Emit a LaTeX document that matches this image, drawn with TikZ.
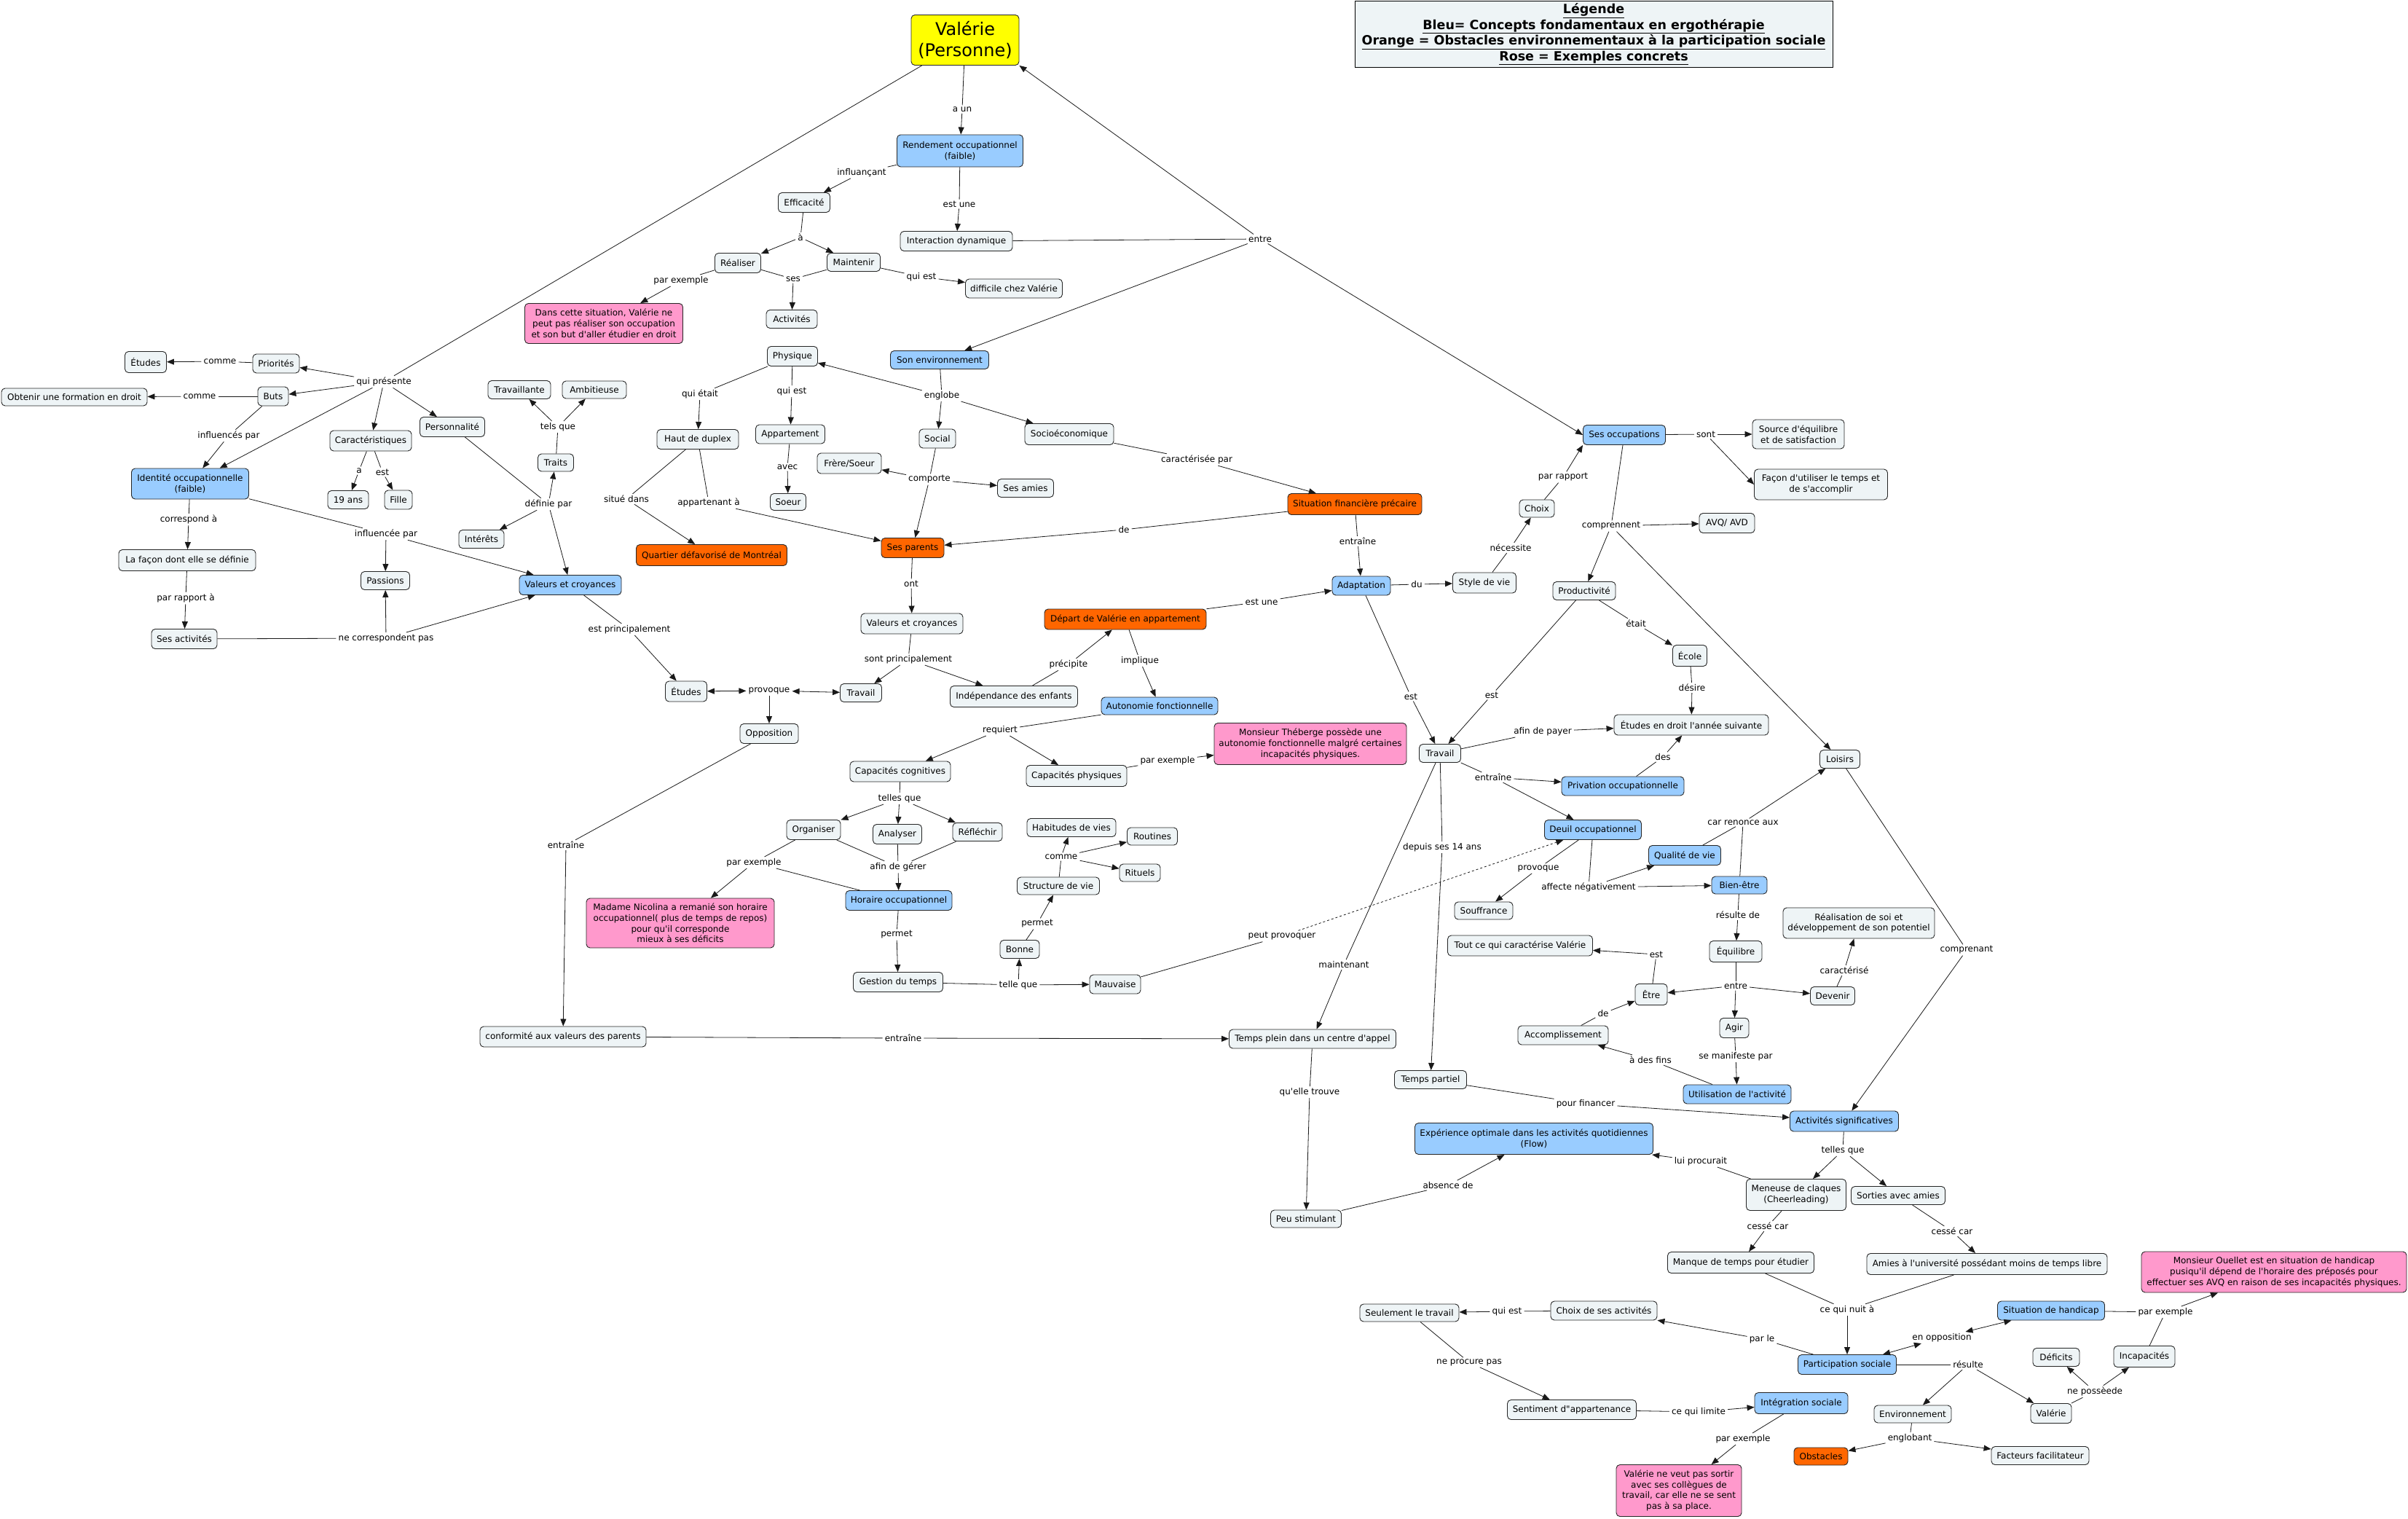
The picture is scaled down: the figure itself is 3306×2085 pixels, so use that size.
\documentclass[tikz,border=0pt]{standalone}
\usepackage{fontspec}
\setmainfont{DejaVu Sans}[Ligatures=TeXOff]
\usetikzlibrary{arrows.meta}
\definecolor{cgray}{RGB}{238,244,246}
\definecolor{cblue}{RGB}{153,204,255}
\definecolor{corange}{RGB}{255,102,0}
\definecolor{cpink}{RGB}{255,153,204}
\definecolor{cyell}{RGB}{255,255,0}
\newcommand\nf{\fontsize{12}{14.8}\selectfont}
\tikzset{
 cpt/.style={rounded corners=5pt, draw=black!85, line width=0.9pt, fill=cgray, inner xsep=3pt, inner ysep=2pt, align=center, font=\nf},
 blu/.style={cpt, fill=cblue},
 org/.style={cpt, fill=corange},
 pnk/.style={cpt, fill=cpink},
 lbl/.style={font=\nf, inner xsep=3pt, inner ysep=2pt},
 ln/.style={line width=0.8pt, black!90},
 ar/.style={ln, -{Triangle[length=10pt,width=8pt]}},
 dar/.style={ln, {Triangle[length=10pt,width=8pt]}-{Triangle[length=10pt,width=8pt]}}
}
\newcommand\CN[6]{\node[#1,minimum width=#4pt,minimum height=#5pt] (#2) at (#3) {#6};}
\newcommand\LB[3]{\node[lbl] (#1) at (#2) {#3};}
\newcommand\LK[2]{\draw[ln] (#1) -- (#2);}
\newcommand\AR[2]{\draw[ar] (#1) -- (#2);}
\newcommand\DA[2]{\draw[dar] (#1) -- (#2);}
\begin{document}
\begin{tikzpicture}[x=1pt,y=-1pt]
\fill[white] (0,0) rectangle (3306,2085);
\useasboundingbox (0,0) rectangle (3306,2085);
% ---------- concepts
\node[cpt, fill=cyell, minimum width=148pt, minimum height=69pt, font=\fontsize{24}{29}\selectfont] (valerie) at (1325,55) {Valérie\\(Personne)};
\node[draw=black, line width=0.9pt, fill=cgray, minimum width=656pt, minimum height=91pt, inner sep=2pt, align=center, font=\bfseries\fontsize{17.5}{21.5}\selectfont] (legend) at (2188,47) {\underline{Légende}\\\underline{Bleu= Concepts fondamentaux en ergothérapie}\\\underline{Orange = Obstacles environnementaux à la participation sociale}\\\underline{Rose = Exemples concrets}};
\CN{blu}{rendement}{1318,207}{173}{44}{Rendement occupationnel\\(faible)}
\CN{cpt}{efficacite}{1104,278}{71}{27}{Efficacité}
\CN{cpt}{interaction}{1313,331}{154}{27}{Interaction dynamique}
\CN{cpt}{realiser}{1013,361}{63}{27}{Réaliser}
\CN{cpt}{maintenir}{1172,360}{73}{25}{Maintenir}
\CN{cpt}{difficile}{1392,396}{133}{26}{difficile chez Valérie}
\CN{cpt}{activites}{1087,438}{70}{25}{Activités}
\CN{pnk}{pink1}{829,444}{217}{55}{Dans cette situation, Valérie ne\\peut pas réaliser son occupation\\et son but d'aller étudier en droit}
\CN{cpt}{physique}{1088,489}{69}{27}{Physique}
\CN{blu}{sonenv}{1290,494}{135}{25}{Son environnement}
\CN{cpt}{etudes1}{200,497}{57}{29}{Études}
\CN{cpt}{priorites}{379,499}{64}{26}{Priorités}
\CN{cpt}{obtenir}{102,545}{200}{24}{Obtenir une formation en droit}
\CN{cpt}{buts}{375,544}{42}{26}{Buts}
\CN{blu}{identite}{261,664}{161}{42}{Identité occupationnelle\\(faible)}
\CN{cpt}{caract}{509,605}{112}{28}{Caractéristiques}
\CN{cpt}{perso}{621,586}{89}{27}{Personnalité}
\CN{cpt}{ans19}{478,686}{56}{25}{19 ans}
\CN{cpt}{fille}{547,686}{38}{26}{Fille}
\CN{cpt}{travaillante}{713,535}{86}{25}{Travaillante}
\CN{cpt}{ambitieuse}{816,535}{88}{24}{Ambitieuse}
\CN{cpt}{traits}{763,635}{49}{24}{Traits}
\CN{cpt}{hautduplex}{958,603}{112}{27}{Haut de duplex}
\CN{cpt}{appartement}{1085,596}{95}{26}{Appartement}
\CN{cpt}{social}{1287,602}{50}{26}{Social}
\CN{cpt}{socioeco}{1468,596}{122}{29}{Socioéconomique}
\CN{cpt}{frere}{1166,636}{88}{28}{Frère/Soeur}
\CN{cpt}{sesamies}{1408,670}{77}{25}{Ses amies}
\CN{cpt}{soeur}{1082,689}{49}{23}{Soeur}
\CN{cpt}{facondef}{257,769}{188}{29}{La façon dont elle se définie}
\CN{cpt}{passions}{529,797}{67}{25}{Passions}
\CN{cpt}{interets}{661,740}{62}{25}{Intérêts}
\CN{blu}{valeurs1}{783,803}{140}{27}{Valeurs et croyances}
\CN{org}{quartier}{977,762}{207}{29}{Quartier défavorisé de Montréal}
\CN{cpt}{sesactivites}{253,877}{90}{27}{Ses activités}
\CN{cpt}{etudes2}{942,949}{57}{28}{Études}
\CN{cpt}{opposition}{1056,1007}{80}{27}{Opposition}
\CN{pnk}{nicolina}{934,1267}{258}{68}{Madame Nicolina a remanié son horaire\\occupationnel( plus de temps de repos)\\pour qu'il corresponde\\mieux à ses déficits}
\CN{cpt}{conformite}{773,1423}{228}{28}{conformité aux valeurs des parents}
\CN{org}{sitfin}{1860,692}{184}{29}{Situation financière précaire}
\CN{org}{sesparents}{1253,752}{86}{27}{Ses parents}
\CN{blu}{adaptation}{1869,804}{80}{26}{Adaptation}
\CN{cpt}{valeurs2}{1252,856}{140}{28}{Valeurs et croyances}
\CN{org}{depart}{1545,850}{222}{28}{Départ de Valérie en appartement}
\CN{cpt}{travail1}{1182,951}{57}{25}{Travail}
\CN{cpt}{independance}{1392,956}{175}{29}{Indépendance des enfants}
\CN{blu}{autonomie}{1592,969}{160}{24}{Autonomie fonctionnelle}
\CN{pnk}{theberge}{1799,1021}{264}{57}{Monsieur Théberge possède une\\autonomie fonctionnelle malgré certaines\\incapacités physiques.}
\CN{cpt}{capcog}{1236,1059}{138}{28}{Capacités cognitives}
\CN{cpt}{capphys}{1478,1065}{138}{29}{Capacités physiques}
\CN{cpt}{travail2}{1977,1034}{57}{25}{Travail}
\CN{cpt}{organiser}{1117,1139}{74}{27}{Organiser}
\CN{cpt}{analyser}{1232,1145}{67}{27}{Analyser}
\CN{cpt}{reflechir}{1342,1142}{68}{25}{Réfléchir}
\CN{blu}{horaire}{1234,1236}{146}{27}{Horaire occupationnel}
\CN{cpt}{habitudes}{1471,1136}{122}{25}{Habitudes de vies}
\CN{cpt}{routines}{1582,1148}{69}{24}{Routines}
\CN{cpt}{rituels}{1565,1198}{56}{24}{Rituels}
\CN{cpt}{structure}{1453,1216}{113}{24}{Structure de vie}
\CN{cpt}{bonne}{1400,1303}{54}{25}{Bonne}
\CN{cpt}{gestion}{1233,1348}{123}{27}{Gestion du temps}
\CN{cpt}{mauvaise}{1531,1351}{70}{26}{Mauvaise}
\CN{cpt}{tempsplein}{1802,1426}{229}{26}{Temps plein dans un centre d'appel}
\CN{cpt}{peustim}{1793,1673}{97}{24}{Peu stimulant}
\CN{blu}{sesocc}{2230,597}{113}{27}{Ses occupations}
\CN{cpt}{source}{2469,596}{126}{40}{Source d'équilibre\\et de satisfaction}
\CN{cpt}{facon}{2500,665}{183}{42}{Façon d'utiliser le temps et\\de s'accomplir}
\CN{cpt}{choix}{2110,698}{48}{24}{Choix}
\CN{cpt}{avq}{2371,718}{76}{27}{AVQ/ AVD}
\CN{cpt}{styledevie}{2038,800}{87}{28}{Style de vie}
\CN{cpt}{productivite}{2175,811}{86}{25}{Productivité}
\CN{cpt}{ecole}{2320,900}{47}{29}{École}
\CN{cpt}{etudesdroit}{2322,995}{212}{28}{Études en droit l'année suivante}
\CN{cpt}{loisirs}{2526,1042}{55}{25}{Loisirs}
\CN{blu}{privation}{2228,1079}{168}{26}{Privation occupationnelle}
\CN{blu}{deuil}{2187,1139}{133}{27}{Deuil occupationnel}
\CN{blu}{qualite}{2313,1174}{99}{27}{Qualité de vie}
\CN{blu}{bienetre}{2388,1215}{76}{24}{Bien-être}
\CN{cpt}{souffrance}{2037,1250}{80}{24}{Souffrance}
\CN{cpt}{realisation}{2552,1267}{208}{42}{Réalisation de soi et\\développement de son potentiel}
\CN{cpt}{toutce}{2087,1298}{199}{28}{Tout ce qui caractérise Valérie}
\CN{cpt}{equilibre}{2383,1306}{72}{29}{Équilibre}
\CN{cpt}{etre}{2267,1365}{44}{29}{Être}
\CN{cpt}{devenir}{2516,1367}{61}{25}{Devenir}
\CN{cpt}{accomp}{2146,1421}{124}{26}{Accomplissement}
\CN{cpt}{agir}{2381,1411}{40}{27}{Agir}
\CN{blu}{utilisation}{2385,1502}{148}{26}{Utilisation de l'activité}
\CN{cpt}{tempspartiel}{1964,1482}{99}{25}{Temps partiel}
\CN{blu}{actsig}{2532,1539}{149}{28}{Activités significatives}
\CN{blu}{experience}{2106,1563}{327}{43}{Expérience optimale dans les activités quotidiennes\\(Flow)}
\CN{cpt}{meneuse}{2466,1640}{137}{43}{Meneuse de claques\\(Cheerleading)}
\CN{cpt}{sorties}{2606,1641}{129}{25}{Sorties avec amies}
\CN{cpt}{manque}{2390,1733}{201}{29}{Manque de temps pour étudier}
\CN{cpt}{amies}{2728,1735}{330}{29}{Amies à l'université possédant moins de temps libre}
\CN{cpt}{seulement}{1935,1802}{136}{24}{Seulement le travail}
\CN{cpt}{choixact}{2202,1799}{146}{26}{Choix de ses activités}
\CN{blu}{sithandicap}{2816,1799}{147}{26}{Situation de handicap}
\CN{pnk}{ouellet}{3122,1746}{364}{56}{Monsieur Ouellet est en situation de handicap\\pusiqu'il dépend de l'horaire des préposés pour\\effectuer ses AVQ en raison de ses incapacités physiques.}
\CN{blu}{participation}{2536,1873}{135}{27}{Participation sociale}
\CN{cpt}{deficits}{2823,1863}{64}{25}{Déficits}
\CN{cpt}{incapacites}{2944,1862}{84}{29}{Incapacités}
\CN{cpt}{sentiment}{2158,1935}{177}{27}{Sentiment d"appartenance}
\CN{blu}{integration}{2473,1926}{128}{29}{Intégration sociale}
\CN{cpt}{environnement}{2626,1941}{106}{24}{Environnement}
\CN{cpt}{valerie2}{2816,1940}{56}{27}{Valérie}
\CN{org}{obstacles}{2500,1999}{74}{24}{Obstacles}
\CN{cpt}{facteurs}{2801,1998}{134}{25}{Facteurs facilitateur}
\CN{pnk}{pinkfinal}{2305,2046}{172}{71}{Valérie ne veut pas sortir\\avec ses collègues de\\travail, car elle ne se sent\\pas à sa place.}
% ---------- linking phrases
\LB{Laun}{1321,150}{a un}
\LB{Lqp}{527,524}{qui présente}
\LB{Lcomme1}{302,496}{comme}
\LB{Lcomme2}{274,544}{comme}
\LB{Linflpar}{314,598}{influencés par}
\LB{La}{493,646}{a}
\LB{Lestf}{525,648}{est}
\LB{Ltels}{766,586}{tels que}
\LB{Ldef}{753,692}{définie par}
\LB{Lcorr}{259,713}{correspond à}
\LB{Linflee}{530,733}{influencée par}
\LB{Lparrapa}{255,821}{par rapport à}
\LB{Lnecorr}{530,876}{ne correspondent pas}
\LB{Lestprinc}{864,864}{est principalement}
\LB{Lprov}{1056,948}{provoque}
\LB{Lentr1}{777,1160}{entraîne}
\LB{Lentr2}{1240,1425}{entraîne}
\LB{Linfluancant}{1183,237}{influançant}
\LB{Lestune}{1317,280}{est une}
\LB{La2}{1099,326}{à}
\LB{Lses}{1089,383}{ses}
\LB{Lparex1}{935,385}{par exemple}
\LB{Lquiest1}{1265,380}{qui est}
\LB{Lentre}{1730,328}{entre}
\LB{Lenglobe}{1293,543}{englobe}
\LB{Lquietait}{961,541}{qui était}
\LB{Lquiest2}{1087,537}{qui est}
\LB{Lavec}{1081,641}{avec}
\LB{Lsitue}{860,685}{situé dans}
\LB{Lappart}{973,690}{appartenant à}
\LB{Lcomporte}{1276,658}{comporte}
\LB{Lcaract}{1643,631}{caractérisée par}
\LB{Lde}{1543,727}{de}
\LB{Lentr3}{1864,743}{entraîne}
\LB{Lont}{1251,801}{ont}
\LB{Lsontprinc}{1247,905}{sont principalement}
\LB{Lprecipite}{1467,912}{précipite}
\LB{Lestune2}{1732,826}{est une}
\LB{Limplique}{1565,907}{implique}
\LB{Ldu}{1945,802}{du}
\LB{Lnecessite}{2074,752}{nécessite}
\LB{Lparrapport}{2146,655}{par rapport}
\LB{Lsont}{2342,596}{sont}
\LB{Lcompr}{2212,722}{comprennent}
\LB{Lesttrav}{1937,956}{est}
\LB{Lestprod}{2048,954}{est}
\LB{Letait}{2246,856}{était}
\LB{Ldesire}{2323,944}{désire}
\LB{Lrequiert}{1373,1002}{requiert}
\LB{Lparex2}{1603,1044}{par exemple}
\LB{Ltellesque}{1235,1096}{telles que}
\LB{Lafin}{1233,1190}{afin de gérer}
\LB{Lparex3}{1035,1184}{par exemple}
\LB{Lpermet1}{1231,1283}{permet}
\LB{Ltellque}{1398,1352}{telle que}
\LB{Lpermet2}{1424,1268}{permet}
\LB{Lcomme3}{1457,1176}{comme}
\LB{Lpeut}{1760,1285}{peut provoquer}
\LB{Lafinpayer}{2118,1004}{afin de payer}
\LB{Ldes}{2283,1039}{des}
\LB{Lentr4}{2050,1067}{entraîne}
\LB{Lmaint}{1845,1324}{maintenant}
\LB{Ldepuis}{1980,1163}{depuis ses 14 ans}
\LB{Lquelle}{1798,1499}{qu'elle trouve}
\LB{Labsence}{1988,1627}{absence de}
\LB{Lpourfin}{2177,1515}{pour financer}
\LB{Lprov2}{2112,1192}{provoque}
\LB{Laffecte}{2181,1218}{affecte négativement}
\LB{Lcarren}{2393,1129}{car renonce aux}
\LB{Lresde}{2386,1256}{résulte de}
\LB{Lentre2}{2383,1353}{entre}
\LB{Lest3}{2274,1310}{est}
\LB{Lcaracterise}{2532,1332}{caractérisé}
\LB{Lde2}{2201,1391}{de}
\LB{Lmanif}{2383,1450}{se manifeste par}
\LB{Ladesfins}{2266,1455}{à des fins}
\LB{Lcomprenant}{2700,1304}{comprenant}
\LB{Ltellesque2}{2530,1579}{telles que}
\LB{Lluiproc}{2335,1594}{lui procurait}
\LB{Lcesse1}{2427,1683}{cessé car}
\LB{Lcesse2}{2680,1690}{cessé car}
\LB{Lnuit}{2536,1798}{ce qui nuit à}
\LB{Lparle}{2419,1838}{par le}
\LB{Lquiest3}{2069,1800}{qui est}
\LB{Lneproc}{2017,1870}{ne procure pas}
\LB{Llimite}{2332,1938}{ce qui limite}
\LB{Lparex4}{2393,1975}{par exemple}
\LB{Lopp}{2666,1836}{en opposition}
\LB{Lresulte}{2702,1873}{résulte}
\LB{Lenglobant}{2622,1974}{englobant}
\LB{Lnepos}{2876,1910}{ne possèede}
\LB{Lparex5}{2973,1801}{par exemple}
% ---------- connectors
\LK{valerie}{Laun} \AR{Laun}{rendement}
\LK{valerie}{Lqp}
\AR{Lqp}{priorites} \AR{Lqp}{buts} \AR{Lqp}{identite} \AR{Lqp}{caract} \AR{Lqp}{perso}
\LK{priorites}{Lcomme1} \AR{Lcomme1}{etudes1}
\LK{buts}{Lcomme2} \AR{Lcomme2}{obtenir}
\LK{buts}{Linflpar} \AR{Linflpar}{identite}
\LK{caract}{La} \AR{La}{ans19}
\LK{caract}{Lestf} \AR{Lestf}{fille}
\LK{perso}{Ldef} \AR{Ldef}{traits} \AR{Ldef}{interets} \AR{Ldef}{valeurs1}
\LK{traits}{Ltels} \AR{Ltels}{travaillante} \AR{Ltels}{ambitieuse}
\LK{identite}{Lcorr} \AR{Lcorr}{facondef}
\LK{facondef}{Lparrapa} \AR{Lparrapa}{sesactivites}
\LK{identite}{Linflee} \AR{Linflee}{passions} \AR{Linflee}{valeurs1}
\LK{sesactivites}{Lnecorr} \AR{Lnecorr}{passions} \AR{Lnecorr}{valeurs1}
\LK{valeurs1}{Lestprinc} \AR{Lestprinc}{etudes2}
\DA{etudes2}{Lprov} \DA{Lprov}{travail1} \AR{Lprov}{opposition}
\LK{opposition}{Lentr1} \AR{Lentr1}{conformite}
\LK{conformite}{Lentr2} \AR{Lentr2}{tempsplein}
\LK{rendement}{Linfluancant} \AR{Linfluancant}{efficacite}
\LK{rendement}{Lestune} \AR{Lestune}{interaction}
\LK{efficacite}{La2} \AR{La2}{realiser} \AR{La2}{maintenir}
\LK{realiser}{Lses} \LK{maintenir}{Lses} \AR{Lses}{activites}
\LK{realiser}{Lparex1} \AR{Lparex1}{pink1}
\LK{maintenir}{Lquiest1} \AR{Lquiest1}{difficile}
\LK{interaction}{Lentre} \draw[ar] (Lentre) -- (valerie.south east); \AR{Lentre}{sonenv} \AR{Lentre}{sesocc.west}
\LK{sonenv}{Lenglobe} \AR{Lenglobe}{physique} \AR{Lenglobe}{social} \AR{Lenglobe}{socioeco}
\LK{physique}{Lquietait} \AR{Lquietait}{hautduplex}
\LK{physique}{Lquiest2} \AR{Lquiest2}{appartement}
\LK{appartement}{Lavec} \AR{Lavec}{soeur}
\LK{hautduplex}{Lsitue} \AR{Lsitue}{quartier}
\LK{hautduplex}{Lappart} \AR{Lappart}{sesparents}
\LK{social}{Lcomporte} \AR{Lcomporte}{frere} \AR{Lcomporte}{sesamies} \AR{Lcomporte}{sesparents}
\LK{socioeco}{Lcaract} \AR{Lcaract}{sitfin}
\LK{sitfin}{Lde} \AR{Lde}{sesparents}
\LK{sitfin}{Lentr3} \AR{Lentr3}{adaptation}
\LK{sesparents}{Lont} \AR{Lont}{valeurs2}
\LK{valeurs2}{Lsontprinc} \AR{Lsontprinc}{travail1} \AR{Lsontprinc}{independance}
\LK{independance}{Lprecipite} \AR{Lprecipite}{depart}
\LK{depart}{Lestune2} \AR{Lestune2}{adaptation}
\LK{depart}{Limplique} \AR{Limplique}{autonomie}
\LK{adaptation}{Ldu} \AR{Ldu}{styledevie}
\LK{styledevie}{Lnecessite} \AR{Lnecessite}{choix}
\LK{choix}{Lparrapport} \AR{Lparrapport}{sesocc.south west}
\LK{adaptation}{Lesttrav} \AR{Lesttrav}{travail2}
\LK{autonomie}{Lrequiert} \AR{Lrequiert}{capcog} \AR{Lrequiert}{capphys}
\LK{capphys}{Lparex2} \AR{Lparex2}{theberge}
\LK{capcog}{Ltellesque} \AR{Ltellesque}{organiser} \AR{Ltellesque}{analyser} \AR{Ltellesque}{reflechir}
\LK{organiser}{Lafin} \LK{analyser}{Lafin} \LK{reflechir}{Lafin} \AR{Lafin}{horaire}
\LK{organiser}{Lparex3} \LK{horaire}{Lparex3} \AR{Lparex3}{nicolina}
\LK{horaire}{Lpermet1} \AR{Lpermet1}{gestion}
\LK{gestion}{Ltellque} \AR{Ltellque}{bonne} \AR{Ltellque}{mauvaise}
\LK{bonne}{Lpermet2} \AR{Lpermet2}{structure}
\LK{structure}{Lcomme3} \AR{Lcomme3}{habitudes} \AR{Lcomme3}{routines} \AR{Lcomme3}{rituels}
\LK{mauvaise}{Lpeut} \draw[ar, dashed] (Lpeut) -- (deuil);
\LK{travail2}{Lafinpayer} \AR{Lafinpayer}{etudesdroit}
\LK{travail2}{Lentr4} \AR{Lentr4}{privation} \AR{Lentr4}{deuil}
\LK{travail2}{Lmaint} \AR{Lmaint}{tempsplein}
\LK{travail2}{Ldepuis} \AR{Ldepuis}{tempspartiel}
\LK{tempsplein}{Lquelle} \AR{Lquelle}{peustim}
\LK{peustim}{Labsence} \AR{Labsence}{experience}
\LK{tempspartiel}{Lpourfin} \AR{Lpourfin}{actsig}
\LK{sesocc}{Lsont} \AR{Lsont}{source} \AR{Lsont}{facon.west}
\LK{sesocc}{Lcompr} \AR{Lcompr}{avq} \AR{Lcompr}{productivite} \AR{Lcompr}{loisirs}
\LK{productivite}{Lestprod} \AR{Lestprod}{travail2}
\LK{productivite}{Letait} \AR{Letait}{ecole}
\LK{ecole}{Ldesire} \AR{Ldesire}{etudesdroit}
\LK{privation}{Ldes} \AR{Ldes}{etudesdroit}
\LK{deuil}{Lprov2} \AR{Lprov2}{souffrance}
\LK{deuil}{Laffecte} \AR{Laffecte}{qualite} \AR{Laffecte}{bienetre}
\LK{qualite}{Lcarren} \LK{bienetre}{Lcarren} \AR{Lcarren}{loisirs}
\LK{bienetre}{Lresde} \AR{Lresde}{equilibre}
\LK{equilibre}{Lentre2} \AR{Lentre2}{etre} \AR{Lentre2}{devenir} \AR{Lentre2}{agir}
\LK{etre}{Lest3} \AR{Lest3}{toutce}
\LK{devenir}{Lcaracterise} \AR{Lcaracterise}{realisation}
\LK{accomp}{Lde2} \AR{Lde2}{etre}
\LK{agir}{Lmanif} \AR{Lmanif}{utilisation}
\LK{utilisation}{Ladesfins} \AR{Ladesfins}{accomp}
\LK{loisirs}{Lcomprenant} \AR{Lcomprenant}{actsig}
\LK{actsig}{Ltellesque2} \AR{Ltellesque2}{meneuse} \AR{Ltellesque2}{sorties}
\LK{meneuse}{Lluiproc} \AR{Lluiproc}{experience}
\LK{meneuse}{Lcesse1} \AR{Lcesse1}{manque}
\LK{sorties}{Lcesse2} \AR{Lcesse2}{amies}
\LK{manque}{Lnuit} \LK{amies}{Lnuit} \AR{Lnuit}{participation}
\LK{participation}{Lparle} \AR{Lparle}{choixact}
\LK{choixact}{Lquiest3} \AR{Lquiest3}{seulement}
\LK{seulement}{Lneproc} \AR{Lneproc}{sentiment}
\LK{sentiment}{Llimite} \AR{Llimite}{integration}
\LK{integration}{Lparex4} \AR{Lparex4}{pinkfinal}
\DA{participation}{Lopp} \DA{Lopp}{sithandicap}
\LK{participation}{Lresulte} \AR{Lresulte}{environnement} \AR{Lresulte}{valerie2}
\LK{environnement}{Lenglobant} \AR{Lenglobant}{obstacles} \AR{Lenglobant}{facteurs}
\LK{valerie2}{Lnepos} \AR{Lnepos}{deficits} \AR{Lnepos}{incapacites}
\LK{sithandicap}{Lparex5} \LK{incapacites}{Lparex5} \AR{Lparex5}{ouellet}
\end{tikzpicture}
\end{document}
